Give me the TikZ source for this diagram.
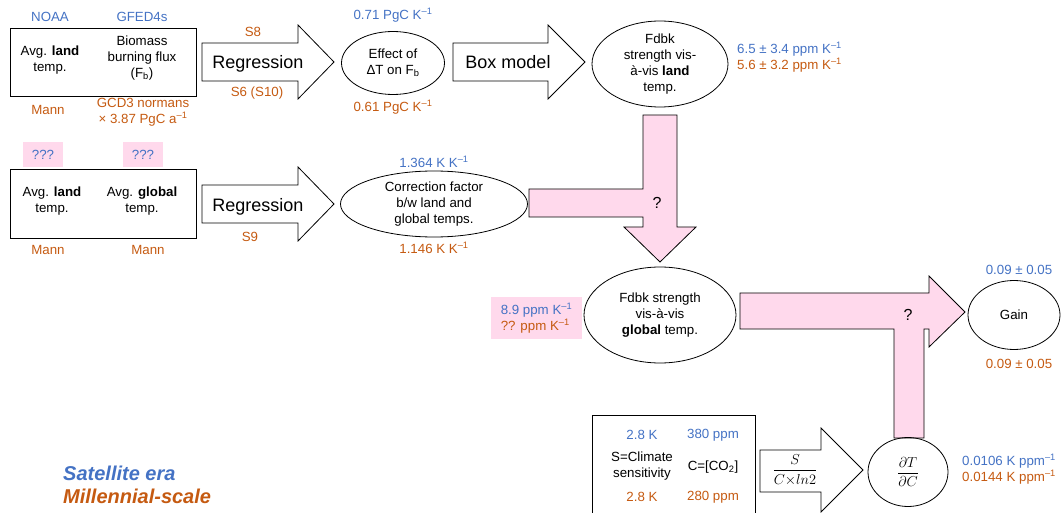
\documentclass[tikz,border=0pt]{standalone}
\usepackage{fontspec}
\setmainfont{Liberation Sans}
\usepackage{amsmath}
\usetikzlibrary{positioning}
\usetikzlibrary{shapes.geometric}

\definecolor{satblue}{HTML}{4472C4}
\definecolor{milorange}{HTML}{C55A11}
\definecolor{askpink}{HTML}{FFD9EC}

\newcommand{\invsup}{\textsuperscript{–1}}

\tikzset{
  txt/.style={font=\fontsize{13.3}{16}\selectfont, align=center, inner sep=0pt},
  sat/.style={txt, text=satblue},
  mil/.style={txt, text=milorange},
  databox/.style={draw, line width=0.8pt, inner sep=0pt},
  outcome/.style={draw, ellipse, line width=0.8pt, txt},
  askbox/.style={fill=askpink, inner sep=0pt},
  blockarrow/.style={draw, line width=0.8pt, fill=white},
  askarrow/.style={draw, line width=0.8pt, fill=askpink},
  method/.style={font=\fontsize{18}{20}\selectfont, inner sep=0pt},
  asktext/.style={font=\fontsize{16}{18}\selectfont, inner sep=0pt},
  legend/.style={font=\fontsize{20}{23}\selectfont\bfseries\itshape, anchor=west, inner sep=0pt}
}

\begin{document}
\begin{tikzpicture}[x=1pt, y=-1pt]

\useasboundingbox (0,0) rectangle (1061,513);

\node[databox, minimum width=186pt, minimum height=68pt] (data1) at (103,62) {};
\node[txt] (land1) at (50,60) {Avg. \textbf{land}\\temp.};
\node[txt] (fb) at (142,58) {Biomass\\burning flux\\(F\textsubscript{b})};
\node[sat] (noaa) at (50,17) {NOAA};
\node[sat] (gfed) at (142,17) {GFED4s};
\node[mil] (mann1) at (48,110) {Mann};
\node[mil] (gcd) at (143,112) {GCD3 normans\\× 3.87 PgC a\invsup};

\draw[blockarrow] (202,43) -- (298,43) -- (298,25) -- (334,62) -- (298,99) -- (298,81) -- (202,81) -- cycle;
\node[method] (reg1) at (258,63.5) {Regression};
\node[mil] (s8) at (253,32) {S8};
\node[mil] (s6) at (257,93) {S6 (S10)};

\node[outcome, minimum width=103pt, minimum height=63pt] (effect) at (393,63) {Effect of\\ΔT on F\textsubscript{b}};
\node[sat] (effsat) at (393,15) {0.71 PgC K\invsup};
\node[mil] (effmil) at (393,107) {0.61 PgC K\invsup};

\draw[blockarrow] (453,43) -- (548,43) -- (548,25) -- (585,62) -- (548,99) -- (548,81) -- (453,81) -- cycle;
\node[method] (boxmodel) at (508,62.5) {Box model};

\node[outcome, minimum width=136pt, minimum height=86pt] (landfb) at (660,64) {Fdbk\\strength vis-\\à-vis \textbf{land}\\temp.};
\node[txt, align=left, anchor=west] (landval) at (737,57) {\textcolor{satblue}{6.5 ± 3.4 ppm K\invsup}\\\textcolor{milorange}{5.6 ± 3.2 ppm K\invsup}};

\node[askbox, sat, minimum width=40pt, minimum height=25pt] (ask1) at (43,154.5) {???};
\node[askbox, sat, minimum width=40pt, minimum height=25pt] (ask2) at (143,154.5) {???};
\node[databox, minimum width=186pt, minimum height=69pt] (data2) at (103,203.5) {};
\node[txt] (land2) at (52,201) {Avg. \textbf{land}\\temp.};
\node[txt] (global2) at (142,201) {Avg. \textbf{global}\\temp.};
\node[mil] (mann2) at (48,250) {Mann};
\node[mil] (mann3) at (148,250) {Mann};

\draw[blockarrow] (202,185) -- (298,185) -- (298,167) -- (334,204) -- (298,241) -- (298,223) -- (202,223) -- cycle;
\node[method] (reg2) at (258,206.5) {Regression};
\node[mil] (s9) at (250,237) {S9};

\node[outcome, minimum width=187pt, minimum height=66pt] (corr) at (434,204) {Correction factor\\b/w land and\\global temps.};
\node[sat] (corrsat) at (434,162) {1.364 K K\invsup};
\node[mil] (corrmil) at (434,248) {1.146 K K\invsup};

\draw[askarrow] (529,189) -- (643,189) -- (643,115) -- (677,115) -- (677,227) -- (696,227) -- (660,262) -- (624,227) -- (643,227) -- (643,217) -- (529,217) -- cycle;
\node[asktext] (ask3) at (657,203) {?};

\node[askbox, txt, align=left, minimum width=91pt, minimum height=42pt] (askval) at (536.5,318) {\textcolor{satblue}{8.9 ppm K\invsup}\\\textcolor{milorange}{?? ppm K\invsup}};
\node[outcome, minimum width=152pt, minimum height=96pt] (globfb) at (660,315) {Fdbk strength\\vis-à-vis\\\textbf{global} temp.};

\draw[askarrow] (740,293) -- (929,293) -- (929,276) -- (965,312) -- (929,347) -- (929,329) -- (924,329) -- (924,438) -- (894,438) -- (894,329) -- (740,329) -- cycle;
\node[asktext] (ask4) at (908,315) {?};

\node[outcome, minimum width=92pt, minimum height=69pt] (gain) at (1014,315) {Gain};
\node[sat] (gainsat) at (1019,270) {0.09 ± 0.05};
\node[mil] (gainmil) at (1019,364) {0.09 ± 0.05};

\node[databox, minimum width=163pt, minimum height=104pt] (sens) at (673.5,467) {};
\node[sat] (senssat) at (642,435) {2.8 K};
\node[sat] (co2sat) at (713,435) {380 ppm};
\node[txt] (sensname) at (642,466) {S=Climate\\sensitivity};
\node[txt] (co2name) at (713,467) {C=[CO\textsubscript{2}]};
\node[mil] (sensmil) at (642,497) {2.8 K};
\node[mil] (co2mil) at (713,497) {280 ppm};

\draw[blockarrow] (760,450) -- (821,450) -- (821,428) -- (863,470) -- (821,512) -- (821,492) -- (760,492) -- cycle;
\node[inner sep=0pt, font=\fontsize{13.5}{16}\selectfont] (formula) at (795,470) {$\dfrac{S}{C{\times}ln2}$};

\node[outcome, minimum width=80pt, minimum height=69pt, font=\fontsize{15}{17}\selectfont] (dtdc) at (908,472) {$\dfrac{\partial T}{\partial C}$};
\node[txt, align=left, anchor=west] (dtdcval) at (962,469) {\textcolor{satblue}{0.0106 K ppm\invsup}\\\textcolor{milorange}{0.0144 K ppm\invsup}};

\node[legend, text=satblue] (satlegend) at (63,473) {Satellite era};
\node[legend, text=milorange] (millegend) at (63,496) {Millennial-scale};

\end{tikzpicture}
\end{document}
